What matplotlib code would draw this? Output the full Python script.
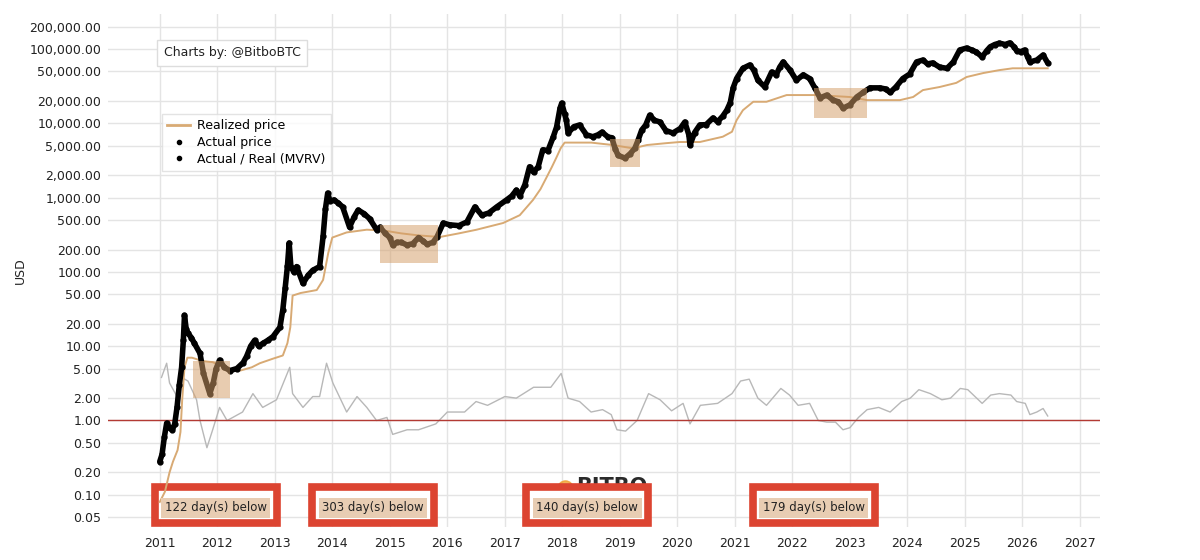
import matplotlib
matplotlib.use("Agg")
import matplotlib.pyplot as plt
import matplotlib.transforms as mtransforms
from matplotlib.lines import Line2D
from matplotlib.patches import Rectangle
from matplotlib.ticker import FixedLocator, FuncFormatter, NullLocator

# Actual price (USD)
price_years = [
    2011.00, 2011.04, 2011.08, 2011.12, 2011.17, 2011.22, 2011.26, 2011.30, 2011.34, 2011.38,
    2011.41, 2011.43, 2011.46, 2011.49, 2011.55, 2011.60, 2011.70, 2011.76, 2011.87, 2011.93,
    2011.98, 2012.04, 2012.12, 2012.22, 2012.34, 2012.45, 2012.51, 2012.58, 2012.65, 2012.72,
    2012.80, 2012.88, 2012.97, 2013.09, 2013.14, 2013.18, 2013.22, 2013.25, 2013.28, 2013.33,
    2013.38, 2013.49, 2013.58, 2013.66, 2013.78, 2013.84, 2013.88, 2013.92, 2013.96, 2014.03,
    2014.10, 2014.18, 2014.30, 2014.38, 2014.45, 2014.55, 2014.65, 2014.77, 2014.83, 2014.92,
    2015.00, 2015.05, 2015.12, 2015.20, 2015.30, 2015.40, 2015.50, 2015.58, 2015.65, 2015.75,
    2015.82, 2015.93, 2016.04, 2016.20, 2016.34, 2016.48, 2016.60, 2016.72, 2016.86, 2017.03,
    2017.12, 2017.20, 2017.26, 2017.35, 2017.43, 2017.50, 2017.58, 2017.66, 2017.75, 2017.84,
    2017.90, 2017.96, 2017.99, 2018.04, 2018.07, 2018.10, 2018.20, 2018.30, 2018.42, 2018.53,
    2018.62, 2018.69, 2018.80, 2018.86, 2018.92, 2018.97, 2019.09, 2019.18, 2019.26, 2019.32,
    2019.38, 2019.45, 2019.52, 2019.60, 2019.70, 2019.80, 2019.92, 2020.05, 2020.13, 2020.20,
    2020.22, 2020.30, 2020.39, 2020.50, 2020.62, 2020.70, 2020.79, 2020.86, 2020.92, 2020.97,
    2021.03, 2021.14, 2021.26, 2021.33, 2021.40, 2021.52, 2021.64, 2021.72, 2021.78, 2021.84,
    2021.96, 2022.07, 2022.19, 2022.30, 2022.39, 2022.48, 2022.60, 2022.71, 2022.80, 2022.88,
    2023.00, 2023.12, 2023.23, 2023.35, 2023.52, 2023.62, 2023.70, 2023.80, 2023.92, 2024.04,
    2024.16, 2024.27, 2024.35, 2024.44, 2024.56, 2024.69, 2024.80, 2024.91, 2025.03, 2025.12,
    2025.20, 2025.30, 2025.38, 2025.44, 2025.52, 2025.60, 2025.70, 2025.78, 2025.85, 2025.90,
    2025.97, 2026.04, 2026.09, 2026.13, 2026.25, 2026.36, 2026.44,
]
price_usd = [
    0.28, 0.35, 0.6, 0.92, 0.8, 0.75, 0.9, 1.5, 3.0, 5.2,
    12, 26, 17, 15, 13, 11, 8, 4.3, 2.3, 3.2,
    5.0, 6.5, 5.2, 4.7, 5.0, 6.0, 7.3, 10, 12, 10,
    11, 12, 13.5, 18, 31, 60, 120, 245, 118, 100,
    118, 70, 90, 105, 118, 300, 700, 1150, 900, 930,
    850, 750, 400, 550, 680, 610, 520, 370, 400, 330,
    290, 230, 250, 250, 230, 240, 290, 260, 235, 250,
    295, 455, 430, 420, 470, 750, 580, 620, 750, 930,
    1050, 1260, 1050, 1500, 2600, 2200, 2600, 4400, 4300, 6500,
    8900, 16000, 18700, 13500, 11000, 7400, 9000, 9500, 7000, 6600,
    7000, 7600, 6500, 6400, 4500, 3700, 3400, 3900, 4600, 6000,
    8100, 9500, 12900, 11000, 10400, 8000, 7400, 8500, 10400, 7000,
    5100, 7500, 9500, 9600, 11800, 10500, 12500, 15000, 19000, 30000,
    40000, 55000, 61000, 52000, 38000, 31000, 49000, 45000, 57000, 67000,
    52000, 38000, 45000, 40000, 30000, 22000, 24000, 20500, 19500, 16000,
    17700, 22600, 26000, 30000, 30000, 29000, 26000, 30800, 40000, 46000,
    67000, 71000, 63000, 65000, 57000, 55000, 67000, 97000, 103000, 97000,
    91000, 78000, 95000, 107000, 115000, 120000, 115000, 121000, 108000, 95000,
    92000, 97000, 78000, 67000, 71000, 83000, 65000,
]

# Realized price (USD)
realized_years = [
    2011.00, 2011.09, 2011.17, 2011.23, 2011.31, 2011.36, 2011.39, 2011.43, 2011.48, 2011.56,
    2011.75, 2011.92, 2012.17, 2012.40, 2012.60, 2012.74, 2012.97, 2013.14, 2013.22, 2013.27,
    2013.31, 2013.45, 2013.73, 2013.84, 2013.93, 2014.00, 2014.25, 2014.60, 2014.90, 2015.20,
    2015.50, 2015.87, 2016.20, 2016.51, 2016.97, 2017.26, 2017.49, 2017.62, 2017.73, 2017.82,
    2017.90, 2017.97, 2018.04, 2018.50, 2018.88, 2019.23, 2019.47, 2019.80, 2020.04, 2020.39,
    2020.79, 2020.95, 2021.03, 2021.14, 2021.32, 2021.55, 2021.90, 2022.42, 2023.00, 2023.30,
    2023.87, 2024.10, 2024.27, 2024.56, 2024.85, 2025.03, 2025.32, 2025.60, 2025.83, 2026.44,
]
realized_usd = [
    0.08, 0.11, 0.2, 0.28, 0.4, 0.7, 1.9, 5.2, 7.0, 7.0,
    6.3, 6.1, 5.0, 4.7, 5.2, 5.9, 6.8, 7.5, 11, 18,
    48, 52, 57, 78, 180, 290, 340, 370, 360, 330,
    310, 295, 330, 370, 455, 580, 930, 1300, 1900, 2600,
    3500, 4600, 5500, 5500, 5100, 4600, 5100, 5400, 5600, 5600,
    6600, 7700, 11000, 15000, 19500, 19500, 24000, 24000, 22600, 20500,
    20500, 22600, 28000, 30800, 35000, 42000, 47500, 52000, 55000, 55000,
]

# Actual / Real (MVRV)
mvrv_years = [
    2011.03, 2011.12, 2011.17, 2011.30, 2011.38, 2011.49, 2011.64, 2011.70, 2011.82, 2011.92,
    2012.04, 2012.17, 2012.27, 2012.44, 2012.62, 2012.79, 2013.03, 2013.26, 2013.31, 2013.49,
    2013.66, 2013.78, 2013.90, 2014.01, 2014.25, 2014.43, 2014.60, 2014.77, 2014.95, 2015.05,
    2015.30, 2015.50, 2015.80, 2016.00, 2016.30, 2016.50, 2016.70, 2017.00, 2017.20, 2017.50,
    2017.65, 2017.80, 2017.98, 2018.10, 2018.30, 2018.50, 2018.70, 2018.85, 2018.95, 2019.10,
    2019.30, 2019.50, 2019.70, 2019.90, 2020.10, 2020.22, 2020.40, 2020.70, 2020.95, 2021.10,
    2021.25, 2021.40, 2021.55, 2021.80, 2021.95, 2022.10, 2022.30, 2022.45, 2022.60, 2022.75,
    2022.88, 2023.00, 2023.15, 2023.30, 2023.50, 2023.70, 2023.90, 2024.05, 2024.20, 2024.40,
    2024.60, 2024.75, 2024.92, 2025.05, 2025.30, 2025.45, 2025.60, 2025.80, 2025.90, 2026.05,
    2026.13, 2026.25, 2026.36, 2026.44,
]
mvrv = [
    3.8, 5.9, 3.2, 2.1, 3.8, 3.4, 1.9, 1.0, 0.43, 0.75,
    1.5, 1.0, 1.1, 1.3, 2.3, 1.5, 1.9, 5.2, 2.3, 1.5,
    2.1, 2.1, 5.9, 3.2, 1.3, 2.1, 1.5, 1.0, 1.1, 0.65,
    0.75, 0.75, 0.9, 1.3, 1.3, 1.8, 1.6, 2.1, 2.0, 2.8,
    2.8, 2.8, 4.3, 2.0, 1.8, 1.3, 1.4, 1.2, 0.75, 0.72,
    1.0, 2.3, 1.9, 1.35, 1.7, 0.9, 1.6, 1.7, 2.3, 3.4,
    3.6, 2.0, 1.6, 2.7, 2.2, 1.6, 1.7, 1.0, 0.95, 0.95,
    0.75, 0.8, 1.1, 1.4, 1.5, 1.3, 1.8, 2.0, 2.6, 2.3,
    1.9, 2.0, 2.7, 2.6, 1.7, 2.2, 2.3, 2.2, 1.8, 1.7,
    1.2, 1.3, 1.45, 1.15,
]

# Periods with MVRV below 1 (start, end, low, high)
below_start = [2011.57, 2014.83, 2018.83, 2022.38]
below_end = [2012.22, 2015.83, 2019.35, 2023.29]
below_low = [2.0, 132, 2600, 11900]
below_high = [6.3, 427, 6100, 29600]
days_below = [122, 303, 140, 179]
label_centers = [2011.97, 2014.71, 2018.43, 2022.37]

year_ticks = list(range(2011, 2028))
usd_ticks = [0.05, 0.1, 0.2, 0.5, 1, 2, 5, 10, 20, 50, 100, 200, 500,
             1000, 2000, 5000, 10000, 20000, 50000, 100000, 200000]

PRICE_COLOR = "black"
REALIZED_COLOR = "#d8aa74"
MVRV_COLOR = "#b8b8b8"
SHADE_COLOR = "#d49e68"
BOX_RED = "#dc4431"


def main() -> None:
    plt.rcParams["font.family"] = ["DejaVu Sans"]
    fig = plt.figure(figsize=(12, 5.6), dpi=100)
    ax = fig.add_axes([0.09, 0.059, 0.8267, 0.916])

    ax.set_yscale("log")
    ax.set_xlim(2010.1, 2027.35)
    ax.set_ylim(0.0369, 296000)

    ax.yaxis.set_major_locator(FixedLocator(usd_ticks))
    ax.yaxis.set_minor_locator(NullLocator())
    ax.yaxis.set_major_formatter(FuncFormatter(lambda v, _: f"{v:,.2f}"))
    ax.set_xticks(year_ticks)
    ax.set_xticklabels([str(y) for y in year_ticks])
    ax.tick_params(axis="both", length=0, labelsize=9, colors="#222222")
    ax.tick_params(axis="y", pad=5)
    ax.tick_params(axis="x", pad=7)
    for s in ax.spines.values():
        s.set_visible(False)
    ax.set_axisbelow(True)
    ax.grid(True, color="#e4e4e4", linewidth=1)
    ax.set_ylabel("USD", fontsize=9, color="#222222", labelpad=2)

    blend = mtransforms.blended_transform_factory(ax.transData, ax.transAxes)

    # watermark, partly covered by the annotation box
    ax.text(2018.86, 0.098, "BITBO", transform=blend, ha="center", va="top",
            fontsize=15, fontweight="bold", color="#2a2a2a", zorder=0.8)
    ax.scatter([2018.05], [0.075], s=120, color="#f0a030", transform=blend, zorder=0.8, alpha=0.8)

    # red annotation boxes with day counts
    for cx, days in zip(label_centers, days_below):
        ax.add_patch(Rectangle((cx - 1.06, 0.007), 2.12, 0.07, transform=blend,
                               facecolor="white", edgecolor=BOX_RED, linewidth=5.5, zorder=1))
        ax.text(cx, 0.037, f"{days} day(s) below", transform=blend, ha="center", va="center",
                fontsize=8.5, color="#222222", zorder=6,
                bbox=dict(boxstyle="square,pad=0.3", facecolor="#e8cdb3", edgecolor="none"))

    ax.plot(mvrv_years, mvrv, color=MVRV_COLOR, linewidth=1, zorder=2)
    ax.axhline(1.0, color="#b33a33", linewidth=1, zorder=2)
    ax.plot(realized_years, realized_usd, color=REALIZED_COLOR, linewidth=1.4, zorder=3)
    ax.plot(price_years, price_usd, color=PRICE_COLOR, linewidth=4, marker="o", markersize=3.5,
            solid_capstyle="round", solid_joinstyle="round", zorder=4)

    for x0, x1, lo, hi in zip(below_start, below_end, below_low, below_high):
        ax.add_patch(Rectangle((x0, lo), x1 - x0, hi - lo, facecolor=SHADE_COLOR,
                               edgecolor="none", alpha=0.52, zorder=5))

    ax.text(0.056, 0.924, "Charts by: @BitboBTC", transform=ax.transAxes, ha="left", va="center",
            fontsize=9, color="#222222", zorder=7,
            bbox=dict(boxstyle="square,pad=0.55", facecolor="white", edgecolor="#dddddd"))

    handles = [
        Line2D([], [], color=REALIZED_COLOR, linewidth=2),
        Line2D([], [], color="black", marker="o", markersize=3, linestyle="none"),
        Line2D([], [], color="black", marker="o", markersize=3, linestyle="none"),
    ]
    leg = ax.legend(handles, ["Realized price", "Actual price", "Actual / Real (MVRV)"],
                    loc="upper left", bbox_to_anchor=(0.048, 0.818), fontsize=9,
                    frameon=True, fancybox=False, handlelength=1.8, handletextpad=0.6,
                    borderpad=0.45, labelspacing=0.3)
    leg.get_frame().set_edgecolor("#dddddd")
    leg.get_frame().set_linewidth(1)
    leg.set_zorder(7)

    fig.savefig("out.png", dpi=100, facecolor="white")
    plt.close(fig)


if __name__ == "__main__":
    main()
